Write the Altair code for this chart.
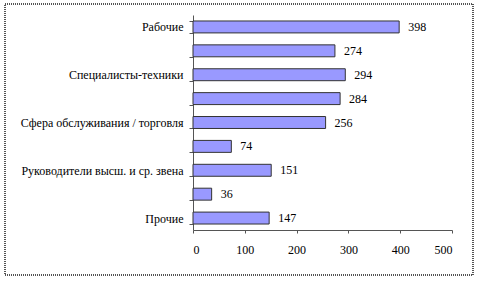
import altair as alt
import pandas as pd

categories = ["Рабочие", " ", "Специалисты-техники", "  ",
              "Сфера обслуживания  / торговля", "   ",
              "Руководители высш. и ср. звена", "    ", "Прочие"]
values = [398, 274, 294, 284, 256, 74, 151, 36, 147]
x_ticks = [0, 100, 200, 300, 400, 500]

df = pd.DataFrame({"cat": categories, "val": values})

FONT = "Liberation Serif"

y_enc = alt.Y("cat:N", sort=categories,
              scale=alt.Scale(paddingInner=0.5, paddingOuter=0.25),
              axis=alt.Axis(title=None, tickBand="extent", tickSize=4,
                            tickColor="#555", domainColor="#555",
                            labelFont=FONT, labelFontSize=12, labelColor="#000",
                            labelPadding=6, labelLimit=300))
x_enc = alt.X("val:Q", scale=alt.Scale(domain=[0, 500], nice=False),
              axis=alt.Axis(title=None, values=x_ticks, tickSize=3,
                            tickColor="#555", domainColor="#555", grid=False,
                            labelFont=FONT, labelFontSize=12, labelColor="#000",
                            labelPadding=11))

bars = alt.Chart(df).mark_bar(fill="#9999FF", stroke="#333333", strokeWidth=1).encode(
    x=x_enc, y=y_enc)

labels = alt.Chart(df).mark_text(align="left", baseline="middle", dx=9,
                                 font=FONT, fontSize=12, color="#000").encode(
    x="val:Q", y=alt.Y("cat:N", sort=categories), text="val:Q")

border = alt.Chart(df).mark_rect(fill=None, stroke="#555555", strokeWidth=1,
                                 strokeDash=[1, 1], clip=False).encode(
    x=alt.value(-188), x2=alt.value(280), y=alt.value(-11), y2=alt.value(260))

chart = alt.layer(bars, labels, border).properties(
    width=259, height=215,
    autosize=alt.AutoSizeParams(type="none"),
    padding={"left": 193, "top": 15, "right": 28, "bottom": 51},
    background="white",
).configure_view(stroke=None)

chart.save("out.html", embed_options={"renderer": "svg", "actions": False})
